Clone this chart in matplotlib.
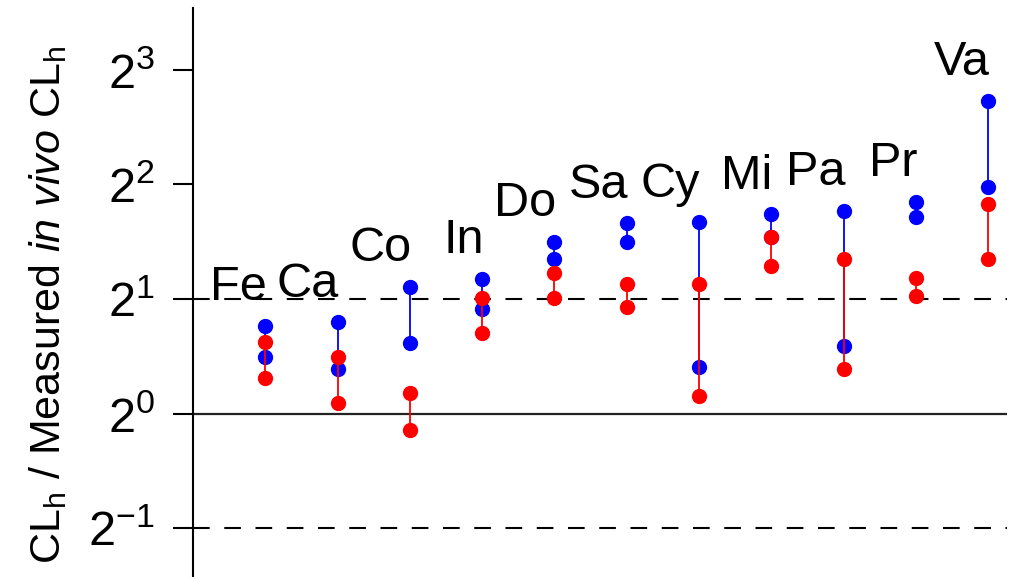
import matplotlib
matplotlib.use("Agg")
import matplotlib.pyplot as plt

plt.rcParams["font.family"] = ["Liberation Sans", "DejaVu Sans"]
plt.rcParams["mathtext.fontset"] = "custom"
plt.rcParams["mathtext.rm"] = "Liberation Sans"
plt.rcParams["mathtext.it"] = "Liberation Sans:italic"
plt.rcParams["mathtext.bf"] = "Liberation Sans:bold"

# compounds and the two predicted/measured ratio ranges for each
names = ["Fe", "Ca", "Co", "In", "Do", "Sa", "Cy", "Mi", "Pa", "Pr", "Va"]
blue_hi = [1.699, 1.738, 2.154, 2.256, 2.826, 3.160, 3.178, 3.336, 3.404, 3.600, 6.626]
blue_lo = [1.409, 1.308, 1.530, 1.883, 2.542, 2.817, 1.329, 2.904, 1.508, 3.288, 3.942]
red_hi = [1.542, 1.406, 1.135, 2.008, 2.344, 2.190, 2.193, 2.904, 2.547, 2.275, 3.551]
red_lo = [1.241, 1.069, 0.906, 1.626, 2.015, 1.909, 1.113, 2.442, 1.310, 2.036, 2.542]

yticks = [0.5, 1, 2, 4, 8]
ytick_labels = [r"$2^{-1}$", r"$2^{0}$", r"$2^{1}$", r"$2^{2}$", r"$2^{3}$"]


def main():
    fig = plt.figure(figsize=(10.23, 5.77), dpi=100)
    ax = fig.add_axes([193 / 1023, 0, (1007 - 193) / 1023, 1 - 8 / 577])

    ax.set_yscale("log", base=2)
    ax.set_ylim(2 ** -1.423, 2 ** 3.536)
    ax.set_xlim(0, 11.26)

    # reference lines
    ax.axhline(2, color="black", lw=1.5, ls=(0, (8, 7)), zorder=1)
    ax.axhline(0.5, color="black", lw=1.5, ls=(0, (8, 7)), zorder=1)
    ax.axhline(1, color="#222222", lw=1.6, zorder=1)

    xs = list(range(1, len(names) + 1))
    for i, x in enumerate(xs):
        ax.plot([x, x], [blue_lo[i], blue_hi[i]], color="blue", lw=1.3,
                marker="o", ms=10, zorder=2)
        ax.plot([x, x], [red_lo[i], red_hi[i]], color="red", lw=1.3,
                marker="o", ms=10, zorder=3)
        top = max(blue_hi[i], red_hi[i])
        ax.annotate(names[i], (x, top), xytext=(1, 18.5),
                    textcoords="offset points", ha="right", va="baseline",
                    fontsize=35, zorder=4)

    ax.set_yticks(yticks)
    ax.set_yticklabels(ytick_labels, fontsize=35)
    ax.yaxis.set_minor_locator(matplotlib.ticker.NullLocator())
    ax.tick_params(axis="y", length=14.5, width=1.5, pad=13)
    ax.set_xticks([])

    for side in ["top", "right", "bottom"]:
        ax.spines[side].set_visible(False)
    ax.spines["left"].set_linewidth(1.5)

    fig.text(48 / 1023, 1 - 305 / 577,
             r"CL$_\mathrm{h}$ / Measured $\mathit{in\ vivo}$ CL$_\mathrm{h}$",
             rotation=90, ha="center", va="center", fontsize=31)

    fig.savefig("out.png", dpi=100)


if __name__ == "__main__":
    main()
